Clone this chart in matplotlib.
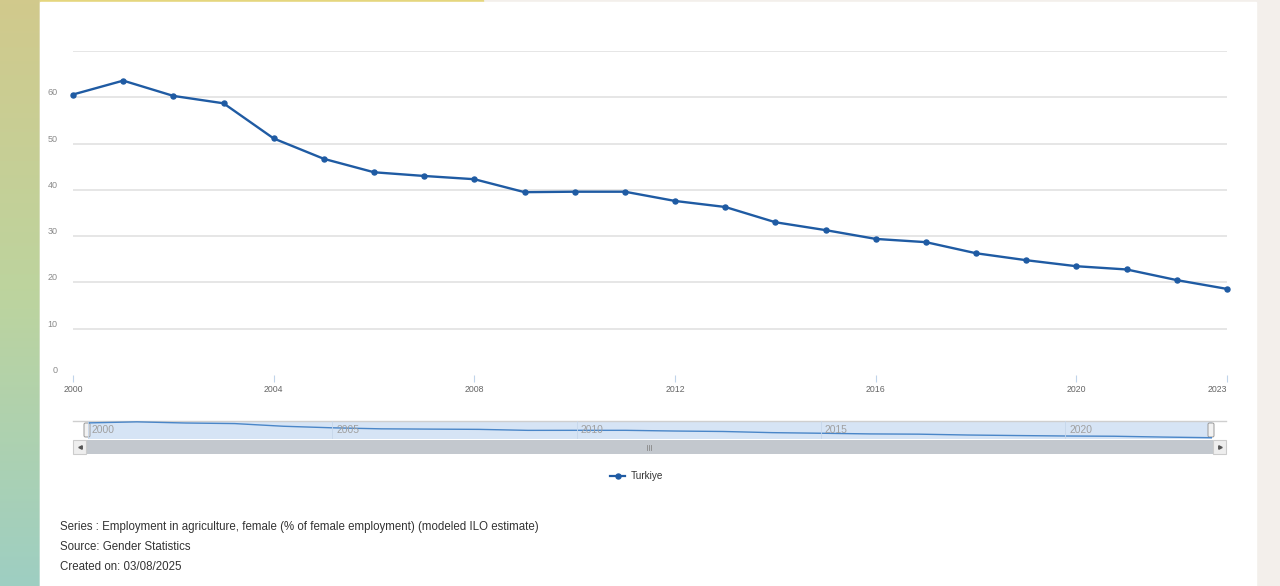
import numpy as np
import matplotlib
matplotlib.use("Agg")
import matplotlib.pyplot as plt
from matplotlib.patches import Rectangle, FancyBboxPatch

plt.rcParams['font.family'] = ['Liberation Sans', 'DejaVu Sans']

# data
years = list(range(2000, 2024))
turkiye = [60.6, 63.6, 60.3, 58.7, 51.1, 46.7, 43.8, 43.0, 42.3, 39.5, 39.6, 39.6,
           37.6, 36.3, 33.0, 31.3, 29.4, 28.7, 26.3, 24.8, 23.5, 22.8, 20.5, 18.6]
yticks = [0, 10, 20, 30, 40, 50, 60, 70]
xticks = [2000, 2004, 2008, 2012, 2016, 2020, 2023]
nav_ticks = [2000, 2005, 2010, 2015, 2020]
series_name = "Turkiye"
footer = ["Series : Employment in agriculture, female (% of female employment) (modeled ILO estimate)",
          "Source: Gender Statistics",
          "Created on: 03/08/2025"]

W, H = 1280, 586
fig = plt.figure(figsize=(W/100, H/100), dpi=100)

# background in pixel space
bg = fig.add_axes([0, 0, 1, 1], zorder=-5)
bg.set_xlim(0, W); bg.set_ylim(H, 0); bg.axis('off')
grad = np.zeros((100, 1, 3))
top = np.array([0.82, 0.79, 0.55]); mid = np.array([0.74, 0.83, 0.62]); bot = np.array([0.62, 0.81, 0.76])
for i in range(100):
    t = i/99.0
    if t < 0.5:
        grad[i, 0] = top + (mid-top)*t*2
    else:
        grad[i, 0] = mid + (bot-mid)*(t-0.5)*2
bg.imshow(grad, extent=[0, 40, H, 0], aspect='auto', interpolation='bilinear')
bg.add_patch(Rectangle((40, 0), W-40, H, color='#f3efeb'))
bg.add_patch(Rectangle((40, 0), 443, 3, color='#e5d67e'))
bg.add_patch(Rectangle((40, 2), 1216, H, color='white'))

# navigator / scrollbar decorations
bg.plot([73, 1226], [421, 421], color='#cfcfcf', lw=1)
bg.add_patch(Rectangle((88, 421.5), 1124, 17.5, color='#d6e4f5', lw=0))
bg.add_patch(Rectangle((86, 440), 1127, 14, color='#c3c8ce', lw=0))
bg.add_patch(Rectangle((73, 440), 13, 14, facecolor='#eeeeee', edgecolor='#cccccc', lw=0.8))
bg.add_patch(Rectangle((1213, 440), 13, 14, facecolor='#eeeeee', edgecolor='#cccccc', lw=0.8))
bg.plot([79.5], [447], marker='<', ms=2.5, color='#555555')
bg.plot([1219.5], [447], marker='>', ms=2.5, color='#555555')
for gx in [647, 649, 651]:
    bg.plot([gx, gx], [444.5, 449.5], color='#888888', lw=0.6)
for hx in [84, 1208]:
    bg.add_patch(FancyBboxPatch((hx, 423), 6, 14, boxstyle='round,pad=0,rounding_size=1.5',
                                facecolor='#f2f2f2', edgecolor='#999999', lw=0.7, zorder=6))

# main chart
ax = fig.add_axes([73/W, (H-375)/H, 1154/W, 324/H])
ax.set_facecolor('none')
ax.plot(years, turkiye, color='#1f5ba3', lw=1.7, marker='o', ms=3.6, clip_on=False, zorder=5)
ax.set_xlim(2000, 2023)
ax.set_ylim(0, 70)
ax.set_yticks(yticks)
ax.set_yticklabels([str(v) if v < 70 else '' for v in yticks])
ax.set_xticks(xticks)
ax.set_xticklabels([str(v) for v in xticks])
for s in ax.spines.values():
    s.set_visible(False)
for v in yticks[1:]:
    ax.axhline(v, color='#e4e4e4', lw=1.3, zorder=1)
ax.tick_params(axis='y', length=0, pad=11, labelsize=6.5, labelcolor='#8a8a8a')
ax.tick_params(axis='x', length=5, width=0.8, color='#c0d4ea', pad=2.5, labelsize=6.3, labelcolor='#666666')
for lbl in ax.get_yticklabels():
    lbl.set_va('bottom')
ax.get_xticklabels()[-1].set_ha('right')

# navigator line
nav = fig.add_axes([88/W, (H-439)/H, 1124/W, 18/H])
nav.set_facecolor('none')
nav.plot(years, turkiye, color='#4a86c8', lw=1.0)
nav.set_xlim(2000, 2023)
nav.set_ylim(15, 66)
nav.axis('off')
for t in nav_ticks:
    nav.axvline(t, color='#c6d6ea', lw=0.6)
    nav.text(t + 0.08, 40, str(t), fontsize=7.4, color='#a0a0a0', va='center', ha='left')

# legend
bg.plot([610, 625], [476, 476], color='#1f5ba3', lw=1.6)
bg.plot([617.5], [476], color='#1f5ba3', marker='o', ms=3.6)
bg.text(631, 476, series_name, fontsize=7.2, color='#333333', va='center', ha='left')

for i, txt in enumerate(footer):
    bg.text(60, 527 + i*20, txt, fontsize=8.3, color='#333333', va='center', ha='left')

fig.savefig('out.png', dpi=100)
